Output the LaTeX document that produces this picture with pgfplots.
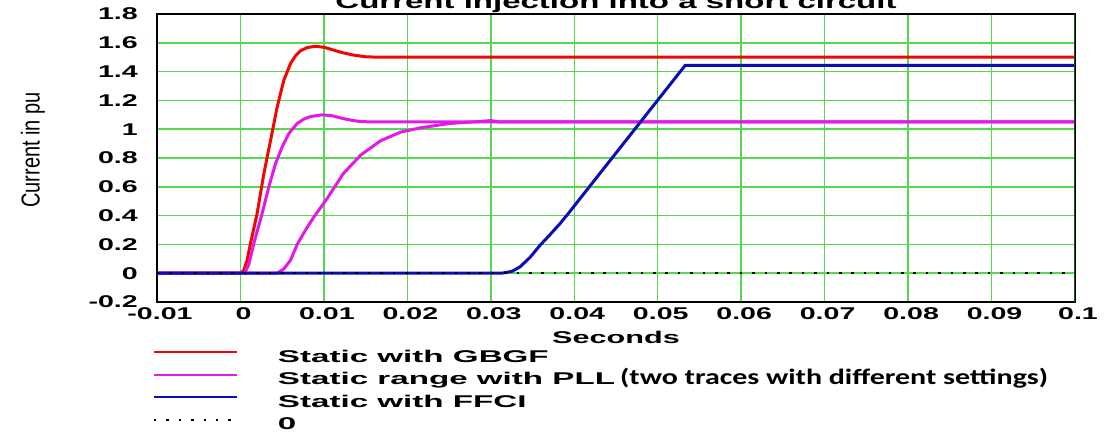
\documentclass[border=0pt]{standalone}
\usepackage{fontspec}
\setmainfont{Liberation Sans}
\newfontfamily\carlito{Carlito}
\usepackage{graphicx}
\usepackage{pgfplots}
\pgfplotsset{compat=1.18}
\usetikzlibrary{calc}

\definecolor{gridgreen}{rgb}{0.33,0.85,0.3}
\definecolor{cred}{rgb}{0.95,0.02,0.02}
\definecolor{cmag}{rgb}{0.9,0.1,0.9}
\definecolor{cblue}{rgb}{0.05,0.05,0.72}

% the original chart was stretched sideways, so its text is too
\newcommand\sx[1]{\scalebox{1.68}[1]{#1}}
\newcommand\legtxt[1]{\scalebox{1.95}[1]{#1}}

\begin{document}
\begin{tikzpicture}
\begin{axis}[name=ax,
    scale only axis, width=918pt, height=288pt,
    xmin=-0.01, xmax=0.1, ymin=-0.2, ymax=1.8,
    xtick={-0.01,0,0.01,0.02,0.03,0.04,0.05,0.06,0.07,0.08,0.09,0.1},
    xticklabels={\sx{-0.01},\sx{0},\sx{0.01},\sx{0.02},\sx{0.03},\sx{0.04},\sx{0.05},\sx{0.06},\sx{0.07},\sx{0.08},\sx{0.09},\sx{0.1}},
    ytick={-0.2,0,0.2,0.4,0.6,0.8,1,1.2,1.4,1.6,1.8},
    yticklabels={\sx{-0.2},\sx{0},\sx{0.2},\sx{0.4},\sx{0.6},\sx{0.8},\sx{1},\sx{1.2},\sx{1.4},\sx{1.6},\sx{1.8}},
    grid=major, major grid style={gridgreen, line width=1.5pt},
    axis line style={black, line width=1.2pt},
    major tick length=0pt,
    tick label style={font=\fontsize{17}{19}\selectfont\bfseries},
    xticklabel style={anchor=north, inner sep=0pt, yshift=-5pt, xshift=3pt},
    yticklabel style={anchor=east, inner sep=0pt, xshift=-19pt},
    title={\scalebox{1.65}[1]{Current injection into a short circuit}},
    every axis title/.style={at={(axis description cs:0.5,1)}, anchor=base, yshift=5.5pt, font=\fontsize{20}{24}\selectfont\bfseries},
    xlabel={\scalebox{1.8}[1]{Seconds}},
    every axis x label/.style={at={(axis description cs:0.5,0)}, anchor=center, yshift=-35pt, font=\fontsize{17}{19}\selectfont\bfseries},
    ylabel={\scalebox{1}[1.3]{Current in pu}},
    every axis y label/.style={at={(axis description cs:0,0.5)}, xshift=-124pt, yshift=8pt, rotate=90, anchor=center, font=\fontsize{20}{22}\selectfont},
    legend style={at={(axis description cs:0,0)}, anchor=north west, xshift=-4pt, yshift=-48pt,
        draw=none, fill=none, inner sep=0pt, outer sep=0pt, row sep=6.5pt,
        font=\fontsize{17}{19}\selectfont\bfseries,
        nodes={inner sep=0pt, text height=12pt, text depth=4pt},
        /tikz/every odd column/.append style={column sep=40pt}},
    legend cell align=left,
    legend image code/.code={\draw[#1, line width=2pt] (0pt,5.7pt) -- (83pt,5.7pt);},
  ]

% Static with GBGF
\addplot[cred, line width=3pt] coordinates {
  (-0.01,0) (0,0) (0.0004,0.02) (0.0008,0.09) (0.0012,0.206) (0.002,0.415)
  (0.0028,0.69) (0.0036,0.92) (0.0044,1.155) (0.0052,1.34) (0.006,1.456)
  (0.0066,1.51) (0.0072,1.545) (0.0080,1.567) (0.009,1.576) (0.0101,1.568)
  (0.0111,1.55) (0.0122,1.532) (0.0135,1.515) (0.015,1.503) (0.0165,1.5) (0.1,1.5)
};
\addlegendentry{\legtxt{Static with GBGF}}

% Static range with PLL, fast setting
\addplot[cmag, line width=3pt] coordinates {
  (-0.01,0) (0.0005,0) (0.001,0.06) (0.0016,0.206) (0.0026,0.415)
  (0.0034,0.6) (0.0042,0.76) (0.005,0.877) (0.0058,0.97) (0.0068,1.04)
  (0.0076,1.07) (0.0084,1.088) (0.0098,1.1) (0.011,1.093) (0.012,1.078)
  (0.0132,1.063) (0.0144,1.053) (0.016,1.05) (0.1,1.05)
};
\addlegendentry{\legtxt{Static range with PLL}\hspace{5pt}{\carlito\fontsize{22}{24}\selectfont\scalebox{1.36}[1]{(two traces with different settings)}}}

% Static range with PLL, slow setting
\addplot[cmag, line width=3pt, forget plot] coordinates {
  (-0.01,0) (0.0044,0) (0.0052,0.03) (0.006,0.09) (0.0068,0.2) (0.0078,0.3)
  (0.0088,0.39) (0.0104,0.52) (0.0123,0.69) (0.0144,0.82) (0.0168,0.92)
  (0.0192,0.98) (0.0216,1.01) (0.0251,1.04) (0.029,1.055) (0.03,1.06)
  (0.031,1.05) (0.1,1.05)
};

% Static with FFCI
\addplot[cblue, line width=3pt] coordinates {
  (-0.01,0) (0.0313,0) (0.0325,0.012) (0.0335,0.044) (0.0347,0.11)
  (0.0359,0.194) (0.0371,0.268) (0.0383,0.345) (0.0395,0.43) (0.0407,0.519)
  (0.0533,1.444) (0.1,1.444)
};
\addlegendentry{\legtxt{Static with FFCI}}

% zero line
\addplot[black, line width=2.5pt, dash pattern=on 2.5pt off 9.9pt] coordinates {
  (-0.01,0) (0.1,0)
};
\addlegendentry{\legtxt{0}}

\draw[line width=2.5pt, black!65!gridgreen] (rel axis cs:1,0) -- (rel axis cs:1,1);
\end{axis}
\pgfresetboundingbox
\path[use as bounding box] ($(ax.south west)+(-157pt,-134pt)$) rectangle ($(ax.north east)+(40pt,14pt)$);
\end{tikzpicture}
\end{document}
